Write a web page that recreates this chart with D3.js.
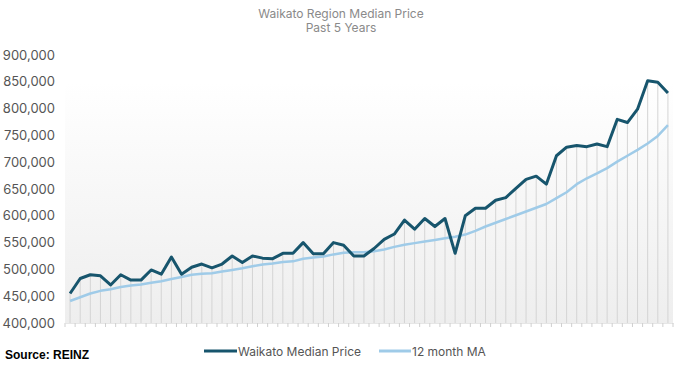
<!DOCTYPE html>
<html>
<head>
<meta charset="utf-8">
<script src="https://cdn.jsdelivr.net/npm/d3@7"></script>
<style>
  html, body { margin: 0; padding: 0; background: #fff; }
  svg { display: block; }
</style>
</head>
<body>
<svg id="chart" width="688" height="366"></svg>
<script>
// ---- Data ----
const titleLines = ["Waikato Region Median Price", "Past 5 Years"];
const months = d3.range(60).map(i => "M" + (i + 1));
const medianPrice = [
  455, 483, 490, 488, 471, 490, 480, 480, 499, 491,
  523, 491, 504, 510, 503, 510, 525, 513, 525, 521,
  520, 530, 530, 550, 529, 529, 550, 545, 525, 525,
  539, 556, 566, 592, 575, 595, 580, 595, 530, 600,
  614, 614, 629, 634, 651, 668, 674, 659, 712, 728,
  731, 729, 734, 729, 780, 774, 799, 852, 849, 829
].map(v => v * 1000);
const movingAvg = [
  441, 448, 455, 460, 463, 467, 470, 472, 475, 478,
  482, 486, 490, 492, 493, 496, 499, 502, 506, 509,
  511, 514, 515, 520, 522, 524, 528, 531, 532, 532,
  534, 537, 542, 546, 549, 552, 555, 558, 561, 565,
  572, 580, 587, 594, 601, 608, 615, 622, 633, 644,
  659, 670, 679, 689, 701, 712, 723, 735, 749, 769
].map(v => v * 1000);
const yTicks = [400000, 450000, 500000, 550000, 600000, 650000, 700000, 750000, 800000, 850000, 900000];
const seriesNames = ["Waikato Median Price", "12 month MA"];
const sourceText = "Source: REINZ";

// ---- Layout ----
const svg = d3.select("#chart");
const mLeft = 65, mRight = 673, mTop = 55, mBottom = 323;
const darkColor = "#17556d", lightColor = "#9fcbe8";

const x = d3.scaleBand().domain(months).range([mLeft, mRight]);
const y = d3.scaleLinear().domain([400000, 900000]).range([mBottom, mTop]);

// gradient background
const defs = svg.append("defs");
const grad = defs.append("linearGradient").attr("id", "bg").attr("x1", 0).attr("y1", 0).attr("x2", 0).attr("y2", 1);
grad.append("stop").attr("offset", "0%").attr("stop-color", "#ffffff");
grad.append("stop").attr("offset", "100%").attr("stop-color", "#eeeeee");
svg.append("rect").attr("x", mLeft).attr("y", y(850000)).attr("width", mRight - mLeft)
  .attr("height", mBottom - y(850000)).attr("fill", "url(#bg)");

// title
svg.append("g").selectAll("text").data(titleLines).join("text")
  .attr("x", 341).attr("y", (d, i) => 18 + i * 14)
  .attr("text-anchor", "middle")
  .attr("font-family", "Inter, 'Open Sans', sans-serif")
  .attr("font-size", 12).attr("fill", "#8a8a8a")
  .text(d => d);

// y axis
const yAxis = d3.axisLeft(y).tickValues(yTicks).tickFormat(d3.format(",")).tickSize(0).tickPadding(0);
const gy = svg.append("g").attr("transform", `translate(55,0)`).call(yAxis);
gy.select(".domain").remove();
gy.selectAll("text").attr("font-family", "Inter, 'Open Sans', sans-serif")
  .attr("font-size", 13).attr("fill", "#555");

// x axis ticks (between categories)
const xAxis = d3.axisBottom(x).tickValues([]).tickSize(0);
const gx = svg.append("g").attr("transform", `translate(0,${mBottom})`).call(xAxis);
gx.select(".domain").attr("stroke", "#e6e6e6");
const bounds = months.map(m => x(m)).concat([mRight]);
gx.selectAll("line.tk").data(bounds).join("line").attr("class", "tk")
  .attr("x1", d => d).attr("x2", d => d).attr("y1", 0).attr("y2", 4)
  .attr("stroke", "#cfcfcf").attr("stroke-width", 1);

const cx = m => x(m) + x.bandwidth() / 2;

// drop lines
svg.append("g").selectAll("line").data(months).join("line")
  .attr("x1", d => cx(d)).attr("x2", d => cx(d))
  .attr("y1", mBottom).attr("y2", (d, i) => y(medianPrice[i]))
  .attr("stroke", "#d4d4d4").attr("stroke-width", 1);

// lines
const line = d3.line().x((d, i) => cx(months[i])).y(d => y(d));
svg.append("path").datum(movingAvg).attr("d", line)
  .attr("fill", "none").attr("stroke", lightColor).attr("stroke-width", 2.5).attr("stroke-linejoin", "round");
svg.append("path").datum(medianPrice).attr("d", line)
  .attr("fill", "none").attr("stroke", darkColor).attr("stroke-width", 3).attr("stroke-linejoin", "round");

// legend
const legendItems = [
  { name: seriesNames[0], color: darkColor, x1: 204, x2: 237, w: 3 },
  { name: seriesNames[1], color: lightColor, x1: 379, x2: 411, w: 3 }
];
const lg = svg.append("g").selectAll("g").data(legendItems).join("g");
lg.append("line").attr("x1", d => d.x1).attr("x2", d => d.x2).attr("y1", 351).attr("y2", 351)
  .attr("stroke", d => d.color).attr("stroke-width", d => d.w);
lg.append("text").attr("x", d => d.x2 + 1).attr("y", 355.5)
  .attr("font-family", "Inter, 'Open Sans', sans-serif").attr("font-size", 12).attr("fill", "#555")
  .text(d => d.name);

// source
svg.append("text").attr("x", 5).attr("y", 359)
  .attr("font-family", "'Liberation Sans', Arial, sans-serif").attr("font-weight", "bold")
  .attr("font-size", 12).attr("fill", "#000").text(sourceText);
</script>
</body>
</html>
